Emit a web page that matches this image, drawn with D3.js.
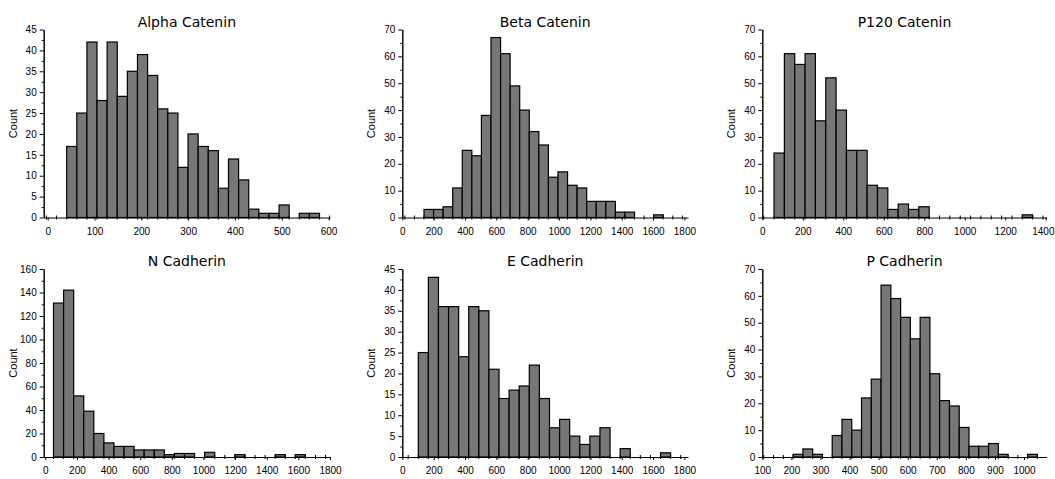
<!DOCTYPE html>
<html>
<head>
<meta charset="utf-8">
<script src="https://cdn.jsdelivr.net/npm/d3@7"></script>
<style>
  body { margin: 0; background: #fff; }
  svg { display: block; }
  .title { font-family: "DejaVu Sans", Verdana, sans-serif; font-size: 14px; fill: #000; }
  .ylab { font-family: "Liberation Sans", Arial, sans-serif; font-size: 11px; fill: #000; }
  .axis text { font-family: "Liberation Sans Narrow", "Arial Narrow", "Liberation Sans", Arial, sans-serif; font-size: 10px; fill: #000; }
  .axis path, .axis line { stroke: #000; stroke-width: 1; }
  .bar { fill: #777; stroke: #000; stroke-width: 1.2; }
</style>
</head>
<body>
<svg id="chart" width="1055" height="479"></svg>
<script>
'use strict'

// panel titles
const titles = ["Alpha Catenin", "Beta Catenin", "P120 Catenin", "N Cadherin", "E Cadherin", "P Cadherin"]

// counts per bin (25 bins per histogram)
const alphaCatenin = [17, 25, 42, 28, 42, 29, 35, 39, 34, 26, 25, 12, 20, 17, 16, 7, 14, 9, 2, 1, 1, 3, 0, 1, 1]
const betaCatenin  = [3, 3, 4, 11, 25, 23, 38, 67, 61, 49, 40, 32, 27, 15, 17, 12, 11, 6, 6, 6, 2, 2, 0, 0, 1]
const p120Catenin  = [24, 61, 57, 61, 36, 52, 40, 25, 25, 12, 11, 3, 5, 3, 4, 0, 0, 0, 0, 0, 0, 0, 0, 0, 1]
const nCadherin    = [131, 142, 52, 39, 20, 12, 9, 9, 6, 6, 6, 2, 3, 3, 0, 4, 0, 0, 2, 0, 0, 0, 2, 0, 2]
const eCadherin    = [25, 43, 36, 36, 24, 36, 35, 21, 14, 16, 17, 22, 14, 7, 9, 5, 3, 5, 7, 0, 2, 0, 0, 0, 1]
const pCadherin    = [1, 3, 1, 0, 8, 14, 10, 22, 29, 64, 59, 52, 44, 52, 31, 21, 19, 11, 4, 4, 5, 1, 0, 0, 1]

// lower edge of the first bin and bin width (data units)
const binStart = [40.6, 138.5, 58, 52, 102, 206]
const binWidth = [21.6, 61.06, 51.1, 63.7, 64.4, 33.6]

// x axis extent and tick labels
const xMin = [-8.5, 0, 0, -10, 0, 100]
const xMax = [603, 1823, 1405, 1800, 1823, 1078]
const xTicks = [
  [0, 100, 200, 300, 400, 500, 600],
  [0, 200, 400, 600, 800, 1000, 1200, 1400, 1600, 1800],
  [0, 200, 400, 600, 800, 1000, 1200, 1400],
  [0, 200, 400, 600, 800, 1000, 1200, 1400, 1600, 1800],
  [0, 200, 400, 600, 800, 1000, 1200, 1400, 1600, 1800],
  [100, 200, 300, 400, 500, 600, 700, 800, 900, 1000]
]

// y axis top and label step
const yMax = [45, 70, 70, 160, 45, 70]
const yStep = [5, 10, 10, 20, 5, 10]

const series = [alphaCatenin, betaCatenin, p120Catenin, nCadherin, eCadherin, pCadherin]

// layout: pixel span of each column's x axis, and each row's y axis (bottom, top)
const cols = [[43.7, 330], [402.3, 688], [762.3, 1046.7]]
const rows = [[217.5, 29.5], [457, 269]]
const W = 1055

const svg = d3.select("#chart")
const fmt = d3.format("d")

series.forEach(function(counts, i){
  let c = i % 3, r = Math.floor(i / 3)
  let x = d3.scaleLinear().domain([xMin[i], xMax[i]]).range(cols[c])
  let y = d3.scaleLinear().domain([0, yMax[i]]).range(rows[r])
  let g = svg.append("g").attr("class", "panel")

  let bins = counts.map(function(v, k){
    return {x0: binStart[i] + k * binWidth[i], x1: binStart[i] + (k + 1) * binWidth[i], v: v}
  })

  g.selectAll(".bar")
    .data(bins.filter(function(d){ return d.v > 0 }))
    .enter().append("rect")
      .attr("class", "bar")
      .attr("x", function(d){ return x(d.x0) })
      .attr("width", function(d){ return x(d.x1) - x(d.x0) })
      .attr("y", function(d){ return y(d.v) })
      .attr("height", function(d){ return y(0) - y(d.v) })

  // x axis
  let xa = g.append("g").attr("class", "axis")
    .attr("transform", "translate(0," + y(0) + ")")
    .call(d3.axisBottom(x).tickValues(xTicks[i]).tickFormat(fmt).tickSize(3).tickSizeOuter(0).tickPadding(7))

  // keep the last label inside the page
  xa.selectAll(".tick text").each(function(d){
    let w = this.getComputedTextLength()
    let over = x(d) + w / 2 - (W - 1)
    if (over > 0) d3.select(this).attr("dx", -over)
  })

  // little marks at the bin edges along the x axis
  let k0 = Math.ceil((xMin[i] - binStart[i]) / binWidth[i])
  let k1 = Math.floor((xMax[i] - binStart[i]) / binWidth[i])
  let edges = d3.range(k0, k1 + 1).map(function(k){ return binStart[i] + k * binWidth[i] })
  xa.selectAll(".edge")
    .data(edges)
    .enter().append("line")
      .attr("class", "edge")
      .attr("x1", function(d){ return x(d) })
      .attr("x2", function(d){ return x(d) })
      .attr("y1", -2)
      .attr("y2", 2)

  // y axis with half-step minor ticks
  let yt = d3.range(0, yMax[i] + 0.001, yStep[i])
  let ym = d3.range(yStep[i] / 2, yMax[i], yStep[i])
  g.append("g").attr("class", "axis")
    .attr("transform", "translate(" + cols[c][0] + ",0)")
    .call(d3.axisLeft(y).tickValues(ym).tickSize(2).tickSizeOuter(0).tickFormat(""))
  g.append("g").attr("class", "axis")
    .attr("transform", "translate(" + cols[c][0] + ",0)")
    .call(d3.axisLeft(y).tickValues(yt).tickFormat(fmt).tickSize(4).tickSizeOuter(0).tickPadding(3))

  g.append("text")
    .attr("class", "title")
    .attr("x", (cols[c][0] + cols[c][1]) / 2)
    .attr("y", rows[r][1] - 3)
    .attr("text-anchor", "middle")
    .text(titles[i])

  g.append("text")
    .attr("class", "ylab")
    .attr("transform", "translate(" + (cols[c][0] - 27) + "," + ((rows[r][0] + rows[r][1]) / 2) + ") rotate(-90)")
    .attr("text-anchor", "middle")
    .text("Count")
})
</script>
</body>
</html>
